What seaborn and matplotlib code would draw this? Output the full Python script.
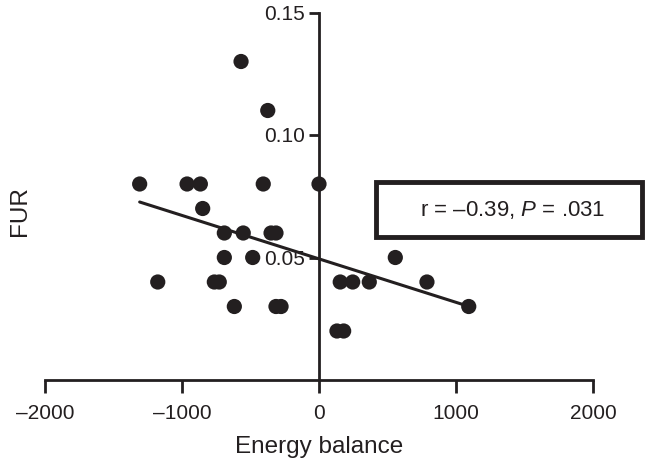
import numpy as np
import pandas as pd
import matplotlib
matplotlib.use('Agg')
import matplotlib.pyplot as plt
import seaborn as sns
from matplotlib.ticker import FuncFormatter
from matplotlib.patches import Rectangle

# energy balance vs FUR
energy_balance = [-1309, -1177, -963, -866, -849, -764, -728, -691, -691, -618,
                  -569, -553, -484, -407, -374, -350, -314, -314, -277, 0,
                  131, 180, 155, 246, 367, 557, 788, 1093]
fur = [0.08, 0.04, 0.08, 0.08, 0.07, 0.04, 0.04, 0.06, 0.05, 0.03,
       0.13, 0.06, 0.05, 0.08, 0.11, 0.06, 0.06, 0.03, 0.03, 0.08,
       0.02, 0.02, 0.04, 0.04, 0.04, 0.05, 0.04, 0.03]
x_ticks = [-2000, -1000, 0, 1000, 2000]
y_ticks = [0.05, 0.10, 0.15]
stat_text = r'r = –0.39, $\it{P}$ = .031'

df = pd.DataFrame({'Energy balance': energy_balance, 'FUR': fur})

sns.set_style('ticks')
plt.rcParams['font.family'] = ['Liberation Sans', 'DejaVu Sans']
plt.rcParams['mathtext.fontset'] = 'custom'
plt.rcParams['mathtext.it'] = 'Liberation Sans:italic'
plt.rcParams['mathtext.rm'] = 'Liberation Sans'

ink = '#231f20'
fig = plt.figure(figsize=(6.5, 4.62), dpi=100)
ax = fig.add_axes([45 / 650, 82 / 462, 548 / 650, 367.5 / 462])

sns.scatterplot(data=df, x='Energy balance', y='FUR', ax=ax, s=120,
                color=ink, edgecolor='none', zorder=3)
sns.regplot(data=df, x='Energy balance', y='FUR', ax=ax, scatter=False,
            ci=None, color=ink, line_kws={'linewidth': 2.2})

ax.set_xlim(-2000, 2000)
ax.set_ylim(0, 0.15)
ax.set_xticks(x_ticks)
ax.set_yticks(y_ticks)
ax.xaxis.set_major_formatter(FuncFormatter(lambda v, p: f'{v:.0f}'.replace('-', '–')))
ax.yaxis.set_major_formatter(FuncFormatter(lambda v, p: f'{v:.2f}'))

ax.spines['left'].set_position(('data', 0))
ax.spines['top'].set_visible(False)
ax.spines['right'].set_visible(False)
for s in ['left', 'bottom']:
    ax.spines[s].set_linewidth(2)
    ax.spines[s].set_color(ink)
ax.tick_params(axis='both', width=2, length=7, color=ink, labelsize=15,
               labelcolor=ink, direction='out', pad=3)
ax.tick_params(axis='x', length=9, pad=8)

ax.set_xlabel('Energy balance', fontsize=17.5, color=ink, labelpad=10)
ax.set_ylabel('FUR', fontsize=17.5, color=ink)
ax.yaxis.set_label_coords(-0.026, 0.46)

# stats box
fig.patches.append(Rectangle((376 / 650, 1 - 237 / 462), 266 / 650, 55 / 462,
                             transform=fig.transFigure, fill=False,
                             edgecolor=ink, linewidth=3.5))
fig.text(513 / 650, 1 - 210 / 462, stat_text, fontsize=16, color=ink,
         ha='center', va='center')

fig.savefig('out.png', dpi=100)
